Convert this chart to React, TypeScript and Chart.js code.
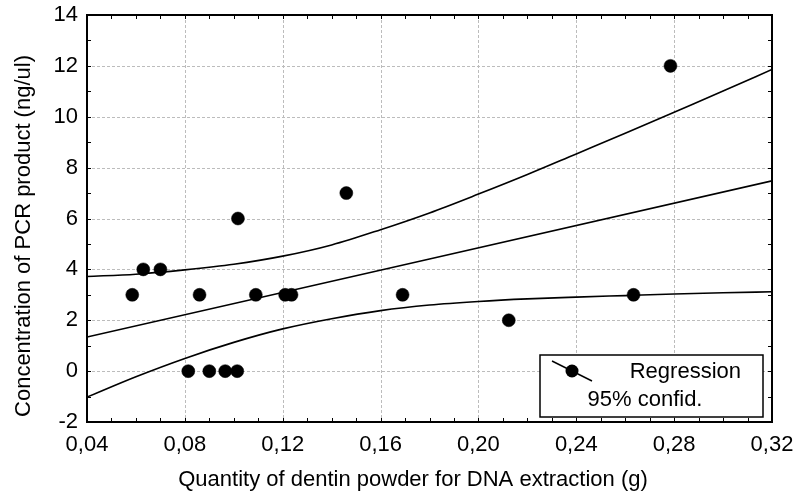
import React, { useEffect, useRef } from 'react';
import { Chart, registerables } from 'chart.js';

Chart.register(...registerables);

// Observed data points
const pointX = [0.0585, 0.063, 0.07, 0.086, 0.109, 0.121, 0.1236, 0.0814, 0.09, 0.0965, 0.1014, 0.1017, 0.146, 0.169, 0.2124, 0.2634, 0.2785];
const pointY = [3, 4, 4, 3, 3, 3, 3, 0, 0, 0, 0, 6, 7, 3, 2, 3, 12];

// Regression line
const regressionX = [0.04, 0.32];
const regressionY = [1.34, 7.48];

// 95% confidence band
const bandX = [0.04, 0.06, 0.08, 0.1, 0.12, 0.14, 0.16, 0.18, 0.2, 0.22, 0.24, 0.26, 0.28, 0.3, 0.32];
const upperY = [3.72, 3.81, 3.98, 4.2, 4.52, 4.96, 5.56, 6.22, 6.96, 7.73, 8.54, 9.35, 10.18, 11.01, 11.86];
const lowerY = [-1.02, -0.22, 0.5, 1.13, 1.66, 2.06, 2.38, 2.6, 2.74, 2.84, 2.91, 2.97, 3.03, 3.08, 3.12];

// Tick labels
const xTicks = [0.04, 0.08, 0.12, 0.16, 0.2, 0.24, 0.28, 0.32];
const yTicks = [-2, 0, 2, 4, 6, 8, 10, 12, 14];
const xMinorStep = 0.01;
const yMinorStep = 1;

const xTitle = 'Quantity of dentin powder for DNA extraction (g)';
const yTitle = 'Concentration of PCR product (ng/ul)';
const legendLine1 = 'Regression';
const legendLine2 = '95% confid.';

const FONT = '"Liberation Sans", Arial, sans-serif';
const FONT_SIZE = 22;

const gridPlugin = {
  id: 'dashedGrid',
  beforeDatasetsDraw(chart: any) {
    const ctx = chart.ctx as CanvasRenderingContext2D;
    const { left, right, top, bottom } = chart.chartArea;
    const xs = chart.scales.x;
    const ys = chart.scales.y;
    ctx.save();
    ctx.strokeStyle = '#bcbcbc';
    ctx.lineWidth = 1;
    ctx.setLineDash([3, 2]);
    ctx.beginPath();
    xTicks.forEach((v) => {
      const px = Math.round(xs.getPixelForValue(v)) + 0.5;
      ctx.moveTo(px, top);
      ctx.lineTo(px, bottom);
    });
    yTicks.forEach((v) => {
      const py = Math.round(ys.getPixelForValue(v)) + 0.5;
      ctx.moveTo(left, py);
      ctx.lineTo(right, py);
    });
    ctx.stroke();
    ctx.restore();
  },
};

const decorations = {
  id: 'decorations',
  afterDraw(chart: any) {
    const ctx = chart.ctx as CanvasRenderingContext2D;
    const { left, right, top, bottom } = chart.chartArea;
    const xs = chart.scales.x;
    const ys = chart.scales.y;
    ctx.save();
    // inward ticks on all four sides
    ctx.strokeStyle = '#000';
    ctx.lineWidth = 1;
    const tl = 4;
    ctx.beginPath();
    const nx = Math.round((xTicks[xTicks.length - 1] - xTicks[0]) / xMinorStep);
    for (let i = 0; i <= nx; i++) {
      const px = Math.round(xs.getPixelForValue(xTicks[0] + i * xMinorStep)) + 0.5;
      ctx.moveTo(px, bottom);
      ctx.lineTo(px, bottom - tl);
      ctx.moveTo(px, top);
      ctx.lineTo(px, top + tl);
    }
    const ny = Math.round((yTicks[yTicks.length - 1] - yTicks[0]) / yMinorStep);
    for (let i = 0; i <= ny; i++) {
      const py = Math.round(ys.getPixelForValue(yTicks[0] + i * yMinorStep)) + 0.5;
      ctx.moveTo(left, py);
      ctx.lineTo(left + tl, py);
      ctx.moveTo(right, py);
      ctx.lineTo(right - tl, py);
    }
    ctx.stroke();
    // frame
    ctx.lineWidth = 2;
    ctx.strokeRect(left, top, right - left, bottom - top);

    // legend
    const x0 = right - 232;
    const x1 = right - 9;
    const y0 = bottom - 67;
    const y1 = bottom - 5;
    ctx.fillStyle = '#fff';
    ctx.fillRect(x0, y0, x1 - x0, y1 - y0);
    ctx.lineWidth = 1.5;
    ctx.strokeRect(x0, y0, x1 - x0, y1 - y0);
    ctx.beginPath();
    ctx.lineWidth = 1.5;
    ctx.moveTo(x0 + 12, y0 + 6);
    ctx.lineTo(x0 + 52, y0 + 26);
    ctx.stroke();
    ctx.beginPath();
    ctx.fillStyle = '#000';
    ctx.arc(x0 + 32, y0 + 16, 6.5, 0, Math.PI * 2);
    ctx.fill();
    ctx.font = `${FONT_SIZE}px ${FONT}`;
    ctx.textBaseline = 'middle';
    ctx.textAlign = 'right';
    ctx.fillText(legendLine1, x1 - 22, y0 + 17);
    ctx.textAlign = 'center';
    ctx.fillText(legendLine2, x0 + 105, y0 + 45);

    // axis titles
    ctx.textAlign = 'center';
    ctx.textBaseline = 'middle';
    ctx.fillText(xTitle, left + 326, bottom + 58);
    ctx.translate(24, top + 221);
    ctx.rotate(-Math.PI / 2);
    ctx.fillText(yTitle, 0, 0);
    ctx.restore();
  },
};

export default function App() {
  const ref = useRef<HTMLCanvasElement | null>(null);
  useEffect(() => {
    if (!ref.current) return;
    const pts = pointX.map((x, i) => ({ x, y: pointY[i] }));
    const reg = regressionX.map((x, i) => ({ x, y: regressionY[i] }));
    const up = bandX.map((x, i) => ({ x, y: upperY[i] }));
    const lo = bandX.map((x, i) => ({ x, y: lowerY[i] }));
    const lineDs = (data: any[]) => ({
      type: 'line' as const,
      data,
      borderColor: '#000',
      borderWidth: 1.6,
      pointRadius: 0,
      fill: false,
      cubicInterpolationMode: 'monotone' as const,
    });
    const chart = new Chart(ref.current, {
      type: 'scatter',
      data: {
        datasets: [
          lineDs(up) as any,
          lineDs(reg) as any,
          lineDs(lo) as any,
          {
            type: 'scatter',
            data: pts,
            backgroundColor: '#000',
            borderColor: '#000',
            borderWidth: 0.5,
            pointRadius: 6.5,
          },
        ],
      },
      options: {
        animation: false,
        responsive: false,
        layout: { padding: { top: 15, right: 23, left: 0, bottom: 0 } },
        plugins: { legend: { display: false }, tooltip: { enabled: false } },
        scales: {
          x: {
            type: 'linear',
            min: 0.04,
            max: 0.32,
            afterBuildTicks: (s: any) => {
              s.ticks = xTicks.map((v) => ({ value: v }));
            },
            afterFit: (s: any) => {
              s.height = 73;
              s.paddingLeft = 0;
              s.paddingRight = 0;
            },
            ticks: {
              color: '#000',
              font: { family: FONT, size: FONT_SIZE },
              padding: 10,
              maxRotation: 0,
              autoSkip: false,
              callback: (v: any) => Number(v).toFixed(2).replace('.', ','),
            },
            grid: { display: false, drawTicks: false },
            border: { display: false },
          },
          y: {
            type: 'linear',
            min: -2,
            max: 14,
            afterBuildTicks: (s: any) => {
              s.ticks = yTicks.map((v) => ({ value: v }));
            },
            afterFit: (s: any) => {
              s.width = 87;
              s.paddingTop = 0;
              s.paddingBottom = 0;
            },
            ticks: {
              color: '#000',
              font: { family: FONT, size: FONT_SIZE },
              padding: 9,
              autoSkip: false,
              callback: (v: any) => String(v),
            },
            grid: { display: false, drawTicks: false },
            border: { display: false },
          },
        },
      },
      plugins: [gridPlugin, decorations],
    });
    return () => chart.destroy();
  }, []);
  return (
    <div style={{ position: 'fixed', left: 0, top: 0, width: 795, height: 495, background: '#fff' }}>
      <canvas ref={ref} width={795} height={495} style={{ display: 'block' }} />
    </div>
  );
}
